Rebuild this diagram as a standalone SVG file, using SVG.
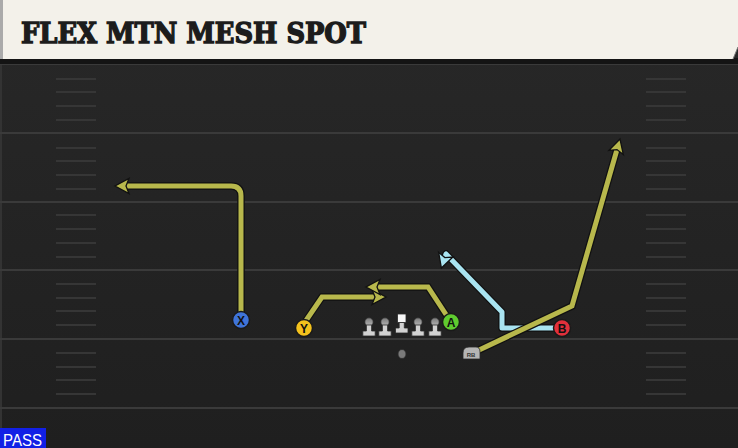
<svg xmlns="http://www.w3.org/2000/svg" xmlns:xlink="http://www.w3.org/1999/xlink" width="738" height="448" viewBox="0 0 738 448">
<defs>
<style>
.yl{stroke:#3a3a3a;stroke-width:2;fill:none}
.hm{stroke:#363636;stroke-width:2;fill:none}
.out{stroke:#111;stroke-width:7.5;fill:none;stroke-linejoin:miter}
.olive{stroke:#b8b84c;stroke-width:5;fill:none}
.blue{stroke:#a9e4f1;stroke-width:5;fill:none}
.rj{stroke-linejoin:round}
.pc{stroke:#1a1a1a;stroke-width:1.5}
.lt{font-family:"Liberation Sans",Arial,sans-serif;font-weight:bold;font-size:12px;fill:#111;text-anchor:middle}
.ol{fill:#d2d2d2;stroke:#2a2a2a;stroke-width:0.8}
</style>
<linearGradient id="bg" x1="0" y1="0" x2="0" y2="1">
<stop offset="0" stop-color="#282828"/>
<stop offset="1" stop-color="#1f1f1f"/>
</linearGradient>
<linearGradient id="head" x1="0" y1="0" x2="0" y2="1">
<stop offset="0" stop-color="#7a7a7a"/>
<stop offset="1" stop-color="#b8b8b8"/>
</linearGradient>
<marker id="ahO" viewBox="-9 -10 19 20" refX="0" refY="0" markerWidth="19" markerHeight="20" markerUnits="userSpaceOnUse" orient="auto">
<path d="M8,0 L-6,-7.5 L-3,0 L-6,7.5 Z" fill="#b8b84c" stroke="#111" stroke-width="1.3" stroke-linejoin="miter"/>
</marker>
<marker id="ahB" viewBox="-9 -10 19 20" refX="0" refY="0" markerWidth="19" markerHeight="20" markerUnits="userSpaceOnUse" orient="auto">
<path d="M8,0 L-6,-7.5 L-3,0 L-6,7.5 Z" fill="#a9e4f1" stroke="#111" stroke-width="1.3" stroke-linejoin="miter"/>
</marker>
<g id="lineman">
<circle cx="0" cy="-14" r="4.2" fill="url(#head)" stroke="#2a2a2a" stroke-width="0.8"/>
<path class="ol" d="M-2.6,-11 H2.6 V-5 H6.2 V0 H-6.2 V-5 H-2.6 Z"/>
</g>
</defs>

<!-- field -->
<rect x="0" y="0" width="738" height="448" fill="url(#bg)"/>
<line x1="1" y1="60" x2="1" y2="448" stroke="#333" stroke-width="2"/>

<g id="yardlines">
<line class="yl" x1="0" y1="64" x2="738" y2="64"/>
<line class="yl" x1="0" y1="133" x2="738" y2="133"/>
<line class="yl" x1="0" y1="202" x2="738" y2="202"/>
<line class="yl" x1="0" y1="270" x2="738" y2="270"/>
<line class="yl" x1="0" y1="339" x2="738" y2="339"/>
<line class="yl" x1="0" y1="408" x2="738" y2="408"/>
</g>
<g id="hashes">
<path class="hm" d="M56,79H96M56,92H96M56,106H96M56,120H96M56,148H96M56,161H96M56,175H96M56,189H96M56,215H96M56,229H96M56,243H96M56,257H96M56,284H96M56,298H96M56,311H96M56,325H96M56,353H96M56,367H96M56,380H96M56,394H96"/>
<path class="hm" d="M646,79H686M646,92H686M646,106H686M646,120H686M646,148H686M646,161H686M646,175H686M646,189H686M646,215H686M646,229H686M646,243H686M646,257H686M646,284H686M646,298H686M646,311H686M646,325H686M646,353H686M646,367H686M646,380H686M646,394H686"/>
</g>

<!-- title banner -->
<g id="banner">
<rect x="0" y="58" width="738" height="6" fill="#141414"/>
<polygon points="0,0 738,0 738,47 733,59 0,59" fill="#f3f1ea"/>
<line x1="733" y1="59" x2="738" y2="47" stroke="#777" stroke-width="1"/>
<rect x="0" y="0" width="3" height="59" fill="#aaa"/>
<text x="21" y="43" font-family="'DejaVu Serif','Liberation Serif',serif" font-weight="bold" font-size="27.5" textLength="345" lengthAdjust="spacingAndGlyphs" fill="#1c1c1c" stroke="#1c1c1c" stroke-width="1.4" stroke-linejoin="miter">FLEX MTN MESH SPOT</text>
</g>

<!-- connectors / routes -->
<g id="routes">
<path class="out" d="M241,312 V196 Q241,186 231,186 H123"/>
<path class="olive" d="M241,312 V196 Q241,186 231,186 H123" marker-end="url(#ahO)"/>

<path class="out" d="M305,322 L322,297 H378"/>
<path class="olive" d="M305,322 L322,297 H378" marker-end="url(#ahO)"/>

<path class="out" d="M447,316 L428,287 H374"/>
<path class="olive" d="M447,316 L428,287 H374" marker-end="url(#ahO)"/>

<path class="out rj" d="M556,328 H502 V312 L446,254 L443.9,260.4"/>
<path class="blue rj" d="M556,328 H502 V312 L446,254 L443.9,260.4" marker-end="url(#ahB)"/>

<path class="out" d="M477,351 L572,306 L617.8,146.7"/>
<path class="olive" d="M477,351 L572,306 L617.8,146.7" marker-end="url(#ahO)"/>
</g>

<!-- players -->
<g id="X">
<circle class="pc" cx="241" cy="320" r="8.5" fill="#3f74d9"/>
<text class="lt" x="241" y="324.5">X</text>
</g>
<g id="Y">
<circle class="pc" cx="304" cy="328" r="8.5" fill="#f4c21d"/>
<text class="lt" x="304" y="332.5">Y</text>
</g>
<g id="A">
<circle class="pc" cx="451" cy="322" r="8.5" fill="#5fcb2f"/>
<text class="lt" x="451" y="326.5">A</text>
</g>
<g id="B">
<circle class="pc" cx="562" cy="328" r="8.5" fill="#e2303b"/>
<text class="lt" x="562" y="332.5">B</text>
</g>

<g id="LT"><use xlink:href="#lineman" x="369" y="336"/></g>
<g id="LG"><use xlink:href="#lineman" x="385" y="336"/></g>
<g id="C">
<rect x="397.5" y="314" width="8.5" height="8.5" fill="#f7f7f7" stroke="#2a2a2a" stroke-width="0.8"/>
<path class="ol" d="M399.2,322.5 H404.3 V328 H408 V333 H395.5 V328 H399.2 Z"/>
</g>
<g id="RG"><use xlink:href="#lineman" x="418" y="336"/></g>
<g id="RT"><use xlink:href="#lineman" x="435" y="336"/></g>

<g id="ball">
<ellipse cx="402" cy="354" rx="4" ry="4.5" fill="#7a7a7a" stroke="#2a2a2a" stroke-width="0.8"/>
</g>

<g id="RB">
<path d="M463,353 Q463,347 469,347 H476 Q480,347 480,352 V359 H463 Z" fill="#b5b5b5" stroke="#2a2a2a" stroke-width="0.8"/>
<text x="471" y="356.5" font-family="'Liberation Sans',Arial,sans-serif" font-size="6" font-weight="bold" fill="#333" text-anchor="middle">RB</text>
</g>

<g id="pass">
<rect x="0" y="428" width="46" height="20" fill="#1220e6"/>
<text x="3" y="445.5" font-family="'Liberation Sans',Arial,sans-serif" font-size="17" fill="#ffffff" textLength="39" lengthAdjust="spacingAndGlyphs">PASS</text>
</g>
</svg>
